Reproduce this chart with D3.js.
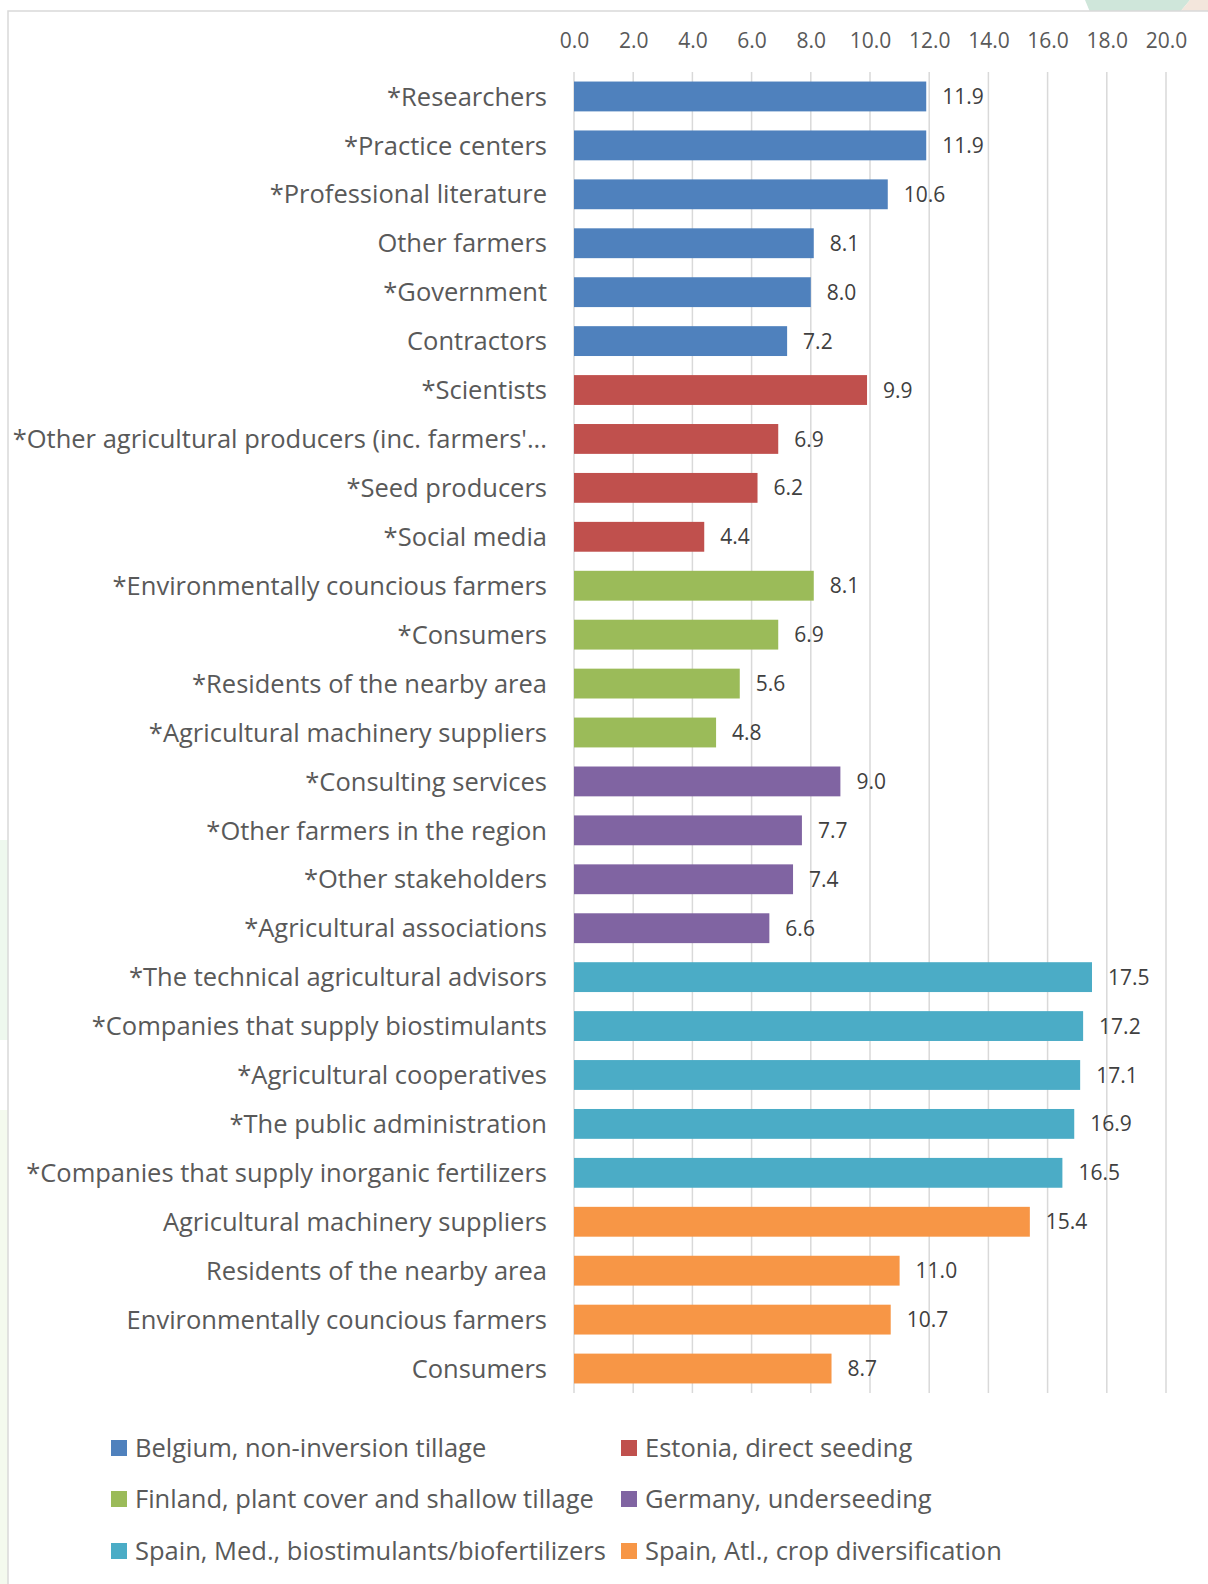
<!DOCTYPE html>
<html><head><meta charset="utf-8">
<script src="https://cdn.jsdelivr.net/npm/d3@7"></script>
<style>body{margin:0;background:#fff;}svg{display:block;}</style>
</head><body><div id="chart"></div>
<script>
const categories = ["*Researchers","*Practice centers","*Professional literature","Other farmers","*Government","Contractors",
"*Scientists","*Other agricultural producers (inc. farmers'...","*Seed producers","*Social media",
"*Environmentally councious farmers","*Consumers","*Residents of the nearby area","*Agricultural machinery suppliers",
"*Consulting services","*Other farmers in the region","*Other stakeholders","*Agricultural associations",
"*The technical agricultural advisors","*Companies that supply biostimulants","*Agricultural cooperatives","*The public administration","*Companies that supply inorganic fertilizers",
"Agricultural machinery suppliers","Residents of the nearby area","Environmentally councious farmers","Consumers"];
const values = [11.9,11.9,10.6,8.1,8.0,7.2, 9.9,6.9,6.2,4.4, 8.1,6.9,5.6,4.8, 9.0,7.7,7.4,6.6, 17.5,17.2,17.1,16.9,16.5, 15.4,11.0,10.7,8.7];
const groupOf = [0,0,0,0,0,0, 1,1,1,1, 2,2,2,2, 3,3,3,3, 4,4,4,4,4, 5,5,5,5];
const seriesNames = ["Belgium, non-inversion tillage","Estonia, direct seeding","Finland, plant cover and shallow tillage","Germany, underseeding","Spain, Med., biostimulants/biofertilizers","Spain, Atl., crop diversification"];
const seriesColors = ["#4F81BD","#C0504D","#9BBB59","#8064A2","#4BACC6","#F79646"];
const tickValues = [0,2,4,6,8,10,12,14,16,18,20];

const W=1208,H=1584;
const svg=d3.select("#chart").append("svg").attr("width",W).attr("height",H);
const font="'Open Sans', sans-serif";

// background decorations
svg.append("path").attr("d","M1085,0 L1190,0 L1180,12 L1090,12 Z").attr("fill","#cfe6da");
svg.append("path").attr("d","M1190,0 L1208,0 L1208,12 L1180,12 Z").attr("fill","#f3e6dc");
svg.append("rect").attr("x",0).attr("y",840).attr("width",8).attr("height",200).attr("fill","#eef8ee");
svg.append("rect").attr("x",0).attr("y",1110).attr("width",8).attr("height",474).attr("fill","#f4faee");
svg.append("path").attr("d","M8,1584 L8,11 L1208,11").attr("fill","#fff").attr("stroke","#d9d9d9").attr("stroke-width",1.5);

const x=d3.scaleLinear().domain([0,20]).range([574,1166]);
const y=d3.scaleBand().domain(categories).range([72,1393]).paddingInner(0.39).paddingOuter(0.195);

// gridlines
svg.append("g").selectAll("line").data(tickValues).join("line")
  .attr("x1",d=>x(d)).attr("x2",d=>x(d)).attr("y1",72).attr("y2",1393)
  .attr("stroke","#d9d9d9").attr("stroke-width",1.5);

// top axis labels
const ax=svg.append("g").attr("transform","translate(0,48)")
  .call(d3.axisTop(x).tickValues(tickValues).tickFormat(d3.format(".1f")).tickSize(0).tickPadding(0));
ax.select(".domain").remove();
ax.selectAll("text").attr("font-family",font).attr("font-size",21).attr("fill","#595959");

// bars
svg.append("g").selectAll("rect").data(categories).join("rect")
  .attr("x",x(0)).attr("y",d=>y(d)).attr("width",(d,i)=>x(values[i])-x(0)).attr("height",y.bandwidth())
  .attr("fill",(d,i)=>seriesColors[groupOf[i]]);

// value labels
svg.append("g").selectAll("text").data(categories).join("text")
  .attr("x",(d,i)=>x(values[i])+16).attr("y",d=>y(d)+y.bandwidth()/2).attr("dy","0.36em")
  .attr("font-family",font).attr("font-size",21).attr("fill","#404040")
  .text((d,i)=>values[i].toFixed(1));

// category labels
svg.append("g").selectAll("text").data(categories).join("text")
  .attr("x",547).attr("y",d=>y(d)+y.bandwidth()/2).attr("dy","0.36em").attr("text-anchor","end")
  .attr("font-family",font).attr("font-size",25.5).attr("fill","#595959")
  .text(d=>d);

// legend
const lg=svg.append("g");
const lx=[111,621], ly=[1448,1499,1551];
seriesNames.forEach((n,i)=>{
  const cx=lx[i%2], cy=ly[Math.floor(i/2)];
  lg.append("rect").attr("x",cx).attr("y",cy-8).attr("width",16).attr("height",16).attr("fill",seriesColors[i]);
  lg.append("text").attr("x",cx+24).attr("y",cy).attr("dy","0.36em")
    .attr("font-family",font).attr("font-size",25.5).attr("fill","#595959").text(n);
});
</script></body></html>
